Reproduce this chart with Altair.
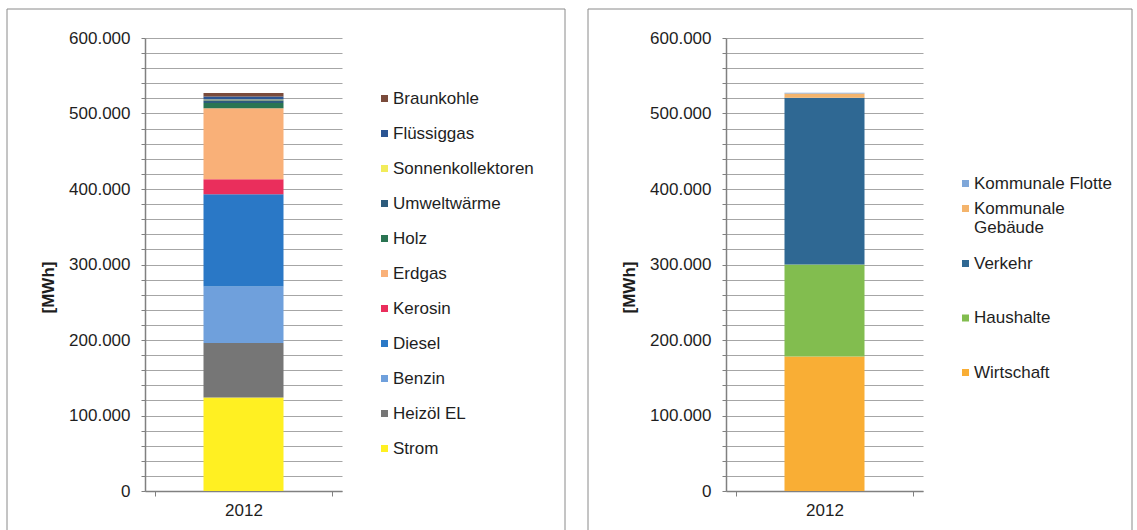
import altair as alt
import pandas as pd

YEAR = "2012"

# Left chart: energy sources (bottom -> top stacking order)
src_names = ["Strom", "Heizöl EL", "Benzin", "Diesel", "Kerosin", "Erdgas",
             "Holz", "Umweltwärme", "Sonnenkollektoren", "Flüssiggas", "Braunkohle"]
src_values = [124000, 72000, 75000, 122000, 20000, 94000,
              7000, 3500, 1000, 4000, 4500]
src_colors = ["#FFF022", "#767676", "#6FA0DC", "#2A78C6", "#EA2E5C", "#F9B078",
              "#2A7452", "#2D5B7C", "#F2EC5A", "#2B5593", "#7A4B3B"]

# Right chart: sectors (bottom -> top stacking order)
sec_names = ["Wirtschaft", "Haushalte", "Verkehr", "Kommunale Gebäude", "Kommunale Flotte"]
sec_values = [178000, 122000, 221000, 5500, 1000]
sec_colors = ["#F9AE35", "#82BD4F", "#2F6893", "#F4B46C", "#7FA7D9"]

y_ticks = list(range(0, 600001, 20000))

FONT = "Liberation Sans"
TXT = "#1e1e1e"
LABEL_EXPR = ("datum.value % 100000 === 0 ? "
              "replace(format(datum.value, ',d'), ',', '.') : ''")
MULTI = ("datum.label == 'Kommunale Gebäude' ? "
         "['Kommunale', 'Gebäude'] : datum.label")


def leg(legend_y, row_pad, **extra):
    kw = dict(
        orient="none", legendX=231, legendY=legend_y, title=None,
        symbolType="square", symbolSize=49, symbolStrokeWidth=0,
        symbolOpacity=1,
        labelFontSize=17, labelFont=FONT, labelColor=TXT,
        rowPadding=row_pad, labelOffset=0, labelLimit=300,
    )
    kw.update(extra)
    return alt.Legend(**kw)


def make_df(names, values):
    return pd.DataFrame({
        "year": [YEAR] * len(names),
        "name": names,
        "name_b": names,
        "value": values,
        "idx": list(range(len(names))),
    })


X_ENC = alt.X("year:N", title=None,
              axis=alt.Axis(labelAngle=0, labelFontSize=17, labelFont=FONT,
                            labelColor=TXT, tickBand="extent", tickSize=5,
                            tickColor="#808080", domainColor="#808080",
                            domainWidth=1.5, labelPadding=6))
Y_ENC = alt.Y("value:Q", stack="zero",
              scale=alt.Scale(domain=[0, 600000], nice=False),
              axis=alt.Axis(values=y_ticks, labelExpr=LABEL_EXPR,
                            title="[MWh]", titleFontWeight="bold",
                            titleFontSize=17, titleFont=FONT, titleColor=TXT,
                            titleX=-97, titleY=249, titleAlign="center",
                            titleBaseline="middle", titleAngle=-90,
                            grid=True, gridColor="#a6a6a6", gridWidth=1,
                            tickColor="#808080", tickSize=4,
                            domainColor="#808080", domainWidth=1.5,
                            labelFontSize=17, labelFont=FONT,
                            labelColor=TXT, labelPadding=11))


def frame_layer(right_edge):
    return alt.Chart(pd.DataFrame({"a": [0]})).mark_rect(
        fillOpacity=0, stroke="#8a8a8a", strokeWidth=1
    ).encode(
        x=alt.value(-138), x2=alt.value(right_edge),
        y=alt.value(-29), y2=alt.value(510),
    )


# ---- left panel
df_l = make_df(src_names, src_values)
bars_l = alt.Chart(df_l).mark_bar(size=80).encode(
    x=X_ENC, y=Y_ENC,
    color=alt.Color("name:N",
                    scale=alt.Scale(domain=src_names[::-1], range=src_colors[::-1]),
                    legend=leg(52, 17)),
    order=alt.Order("idx:Q", sort="ascending"),
)
left = alt.layer(frame_layer(420), bars_l).properties(width=197, height=453)

# ---- right panel (legend split in two groups, as in the reference)
df_r = make_df(sec_names, sec_values)
dom_r = sec_names[::-1]
rng_r = sec_colors[::-1]
bars_r = alt.Chart(df_r).mark_bar(size=80).encode(
    x=X_ENC, y=Y_ENC,
    color=alt.Color("name:N",
                    scale=alt.Scale(domain=dom_r, range=rng_r),
                    legend=leg(137, 7, values=dom_r[:2], labelExpr=MULTI)),
    order=alt.Order("idx:Q", sort="ascending"),
)
df_rb = make_df(sec_names[:3], sec_values[:3])
legend_b = alt.Chart(df_rb).mark_square(size=0, opacity=0).encode(
    x=X_ENC, y=Y_ENC,
    fill=alt.Fill("name_b:N",
                  scale=alt.Scale(domain=dom_r[2:], range=rng_r[2:]),
                  legend=leg(217, 36.5)),
    order=alt.Order("idx:Q", sort="ascending"),
)
right = alt.layer(frame_layer(406), bars_r, legend_b).properties(width=197, height=453)

chart = alt.hconcat(left, right, spacing=21).resolve_scale(
    color="independent", y="independent", x="independent", fill="independent"
).properties(
    padding={"left": 6, "top": 8, "right": 0, "bottom": 0},
    background="white",
).configure_view(stroke=None)

chart.save("out.html", embed_options={"renderer": "svg", "actions": False})
